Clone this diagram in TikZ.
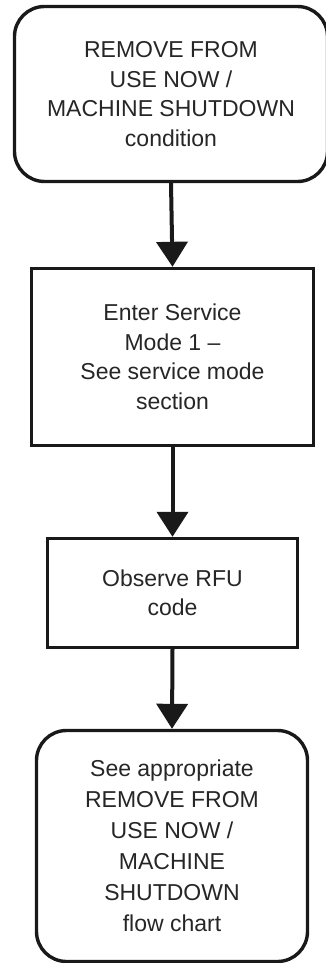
\documentclass[tikz,border=0pt]{standalone}
\usepackage{fontspec}
\setmainfont{Liberation Sans}
\usetikzlibrary{arrows.meta}
\tikzset{
  boxbase/.style={draw=black!90, line width=3.4pt, fill=white, align=center, inner sep=0pt,
    font=\fontsize{23}{29.5}\selectfont, text=black!85},
  termbox/.style={boxbase, rounded corners=30pt},
  procbox/.style={boxbase},
  flowarrow/.style={draw=black!90, line width=4pt, -{Triangle[width=31pt,length=25pt]}}
}
\begin{document}
\begin{tikzpicture}[x=1pt,y=-1pt]
\useasboundingbox (0,0) rectangle (325,963);
\node[termbox, minimum width=313pt, minimum height=175pt] (b1) at (171,94)
  {REMOVE FROM\\USE NOW /\\MACHINE SHUTDOWN\\condition};
\node[procbox, minimum width=282pt, minimum height=177pt] (b2) at (172.5,357)
  {Enter Service\\Mode 1 –\\See service mode\\section};
\node[procbox, minimum width=250pt, minimum height=109pt] (b3) at (172.5,593)
  {Observe RFU\\code};
\node[termbox, minimum width=271pt, minimum height=231pt, font=\fontsize{23}{31}\selectfont] (b4) at (172,846)
  {See appropriate\\REMOVE FROM\\USE NOW /\\MACHINE\\SHUTDOWN\\flow chart};
\draw[flowarrow] (b1.south) -- (b2.north);
\draw[flowarrow] (b2.south) -- (b3.north);
\draw[flowarrow] (b3.south) -- (b4.north);
\end{tikzpicture}
\end{document}
